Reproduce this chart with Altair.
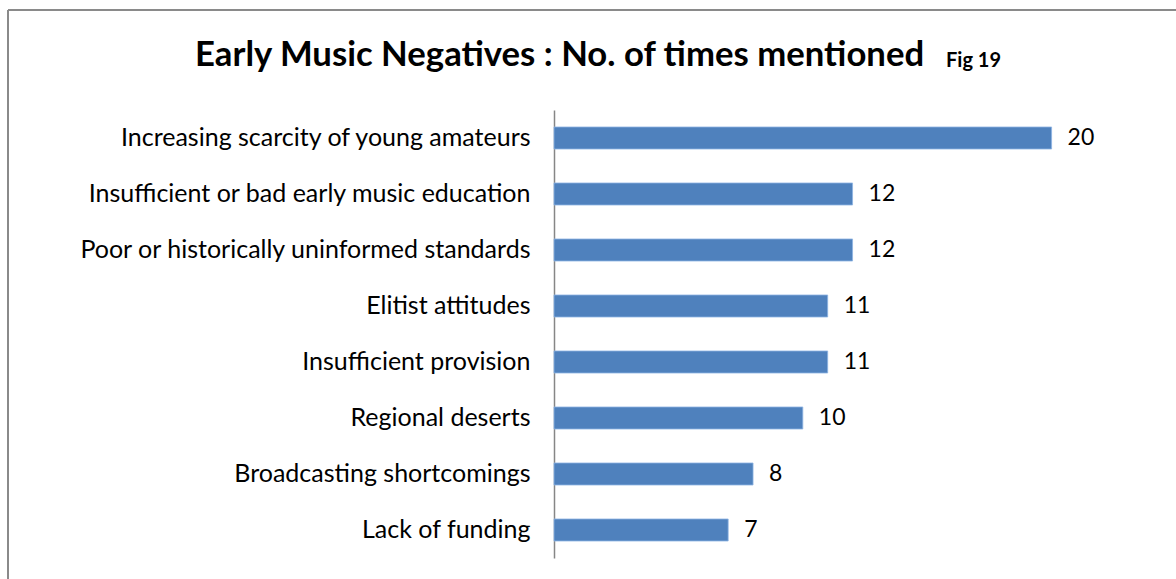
import altair as alt
import pandas as pd

categories = [
    "Increasing scarcity of young amateurs",
    "Insufficient or bad early music education",
    "Poor or historically uninformed standards",
    "Elitist attitudes",
    "Insufficient provision",
    "Regional deserts",
    "Broadcasting shortcomings",
    "Lack of funding",
]
values = [20, 12, 12, 11, 11, 10, 8, 7]

title_main = "Early Music Negatives : No. of times mentioned"
title_fig = "Fig 19"

df = pd.DataFrame({"category": categories, "value": values})

FONT = "Lato"

y_enc = alt.Y(
    "category:N",
    sort=categories,
    scale=alt.Scale(paddingInner=0.607, paddingOuter=0.3035),
    axis=alt.Axis(
        title=None,
        ticks=False,
        labelFontSize=25,
        labelFont=FONT,
        labelColor="#000000",
        labelPadding=24,
        labelLimit=700,
        domainColor="#868686",
        domainWidth=1.5,
        grid=False,
    ),
)
x_enc = alt.X(
    "value:Q",
    scale=alt.Scale(domain=[0, 25], nice=False),
    axis=None,
)

bars = alt.Chart(df).mark_bar(color="#4f81bd", stroke="#8eb4e3", strokeWidth=0.8).encode(
    x=x_enc, y=y_enc
)
labels = alt.Chart(df).mark_text(
    align="left", baseline="middle", dx=16, fontSize=23, font=FONT, color="#000000"
).encode(x=x_enc, y=y_enc, text="value:Q")

tdf = pd.DataFrame({"t": [title_main]})
fdf = pd.DataFrame({"t": [title_fig]})
title_mark = alt.Chart(tdf).mark_text(
    align="left", baseline="alphabetic", fontSize=34.7, fontWeight="bold", font=FONT, color="#000000"
).encode(x=alt.value(-359), y=alt.value(-44), text="t:N")
fig_mark = alt.Chart(fdf).mark_text(
    align="left", baseline="alphabetic", fontSize=20, fontWeight="bold", font=FONT, color="#000000"
).encode(x=alt.value(392), y=alt.value(-43), text="t:N")

border_top = alt.Chart(tdf).mark_rule(color="#8a8a8a", strokeWidth=2).encode(
    x=alt.value(-546), x2=alt.value(700), y=alt.value(-100)
)
border_left = alt.Chart(tdf).mark_rule(color="#8a8a8a", strokeWidth=2).encode(
    x=alt.value(-546), y=alt.value(-100), y2=alt.value(600)
)

chart = alt.layer(border_top, border_left, bars, labels, title_mark, fig_mark).properties(
    width=622,
    height=448,
    autosize=alt.AutoSizeParams(type="none"),
    padding={"left": 554, "top": 110, "right": 0, "bottom": 21},
    background="white",
).configure_view(stroke=None)

chart.save("out.html", embed_options={"renderer": "svg", "actions": False})
